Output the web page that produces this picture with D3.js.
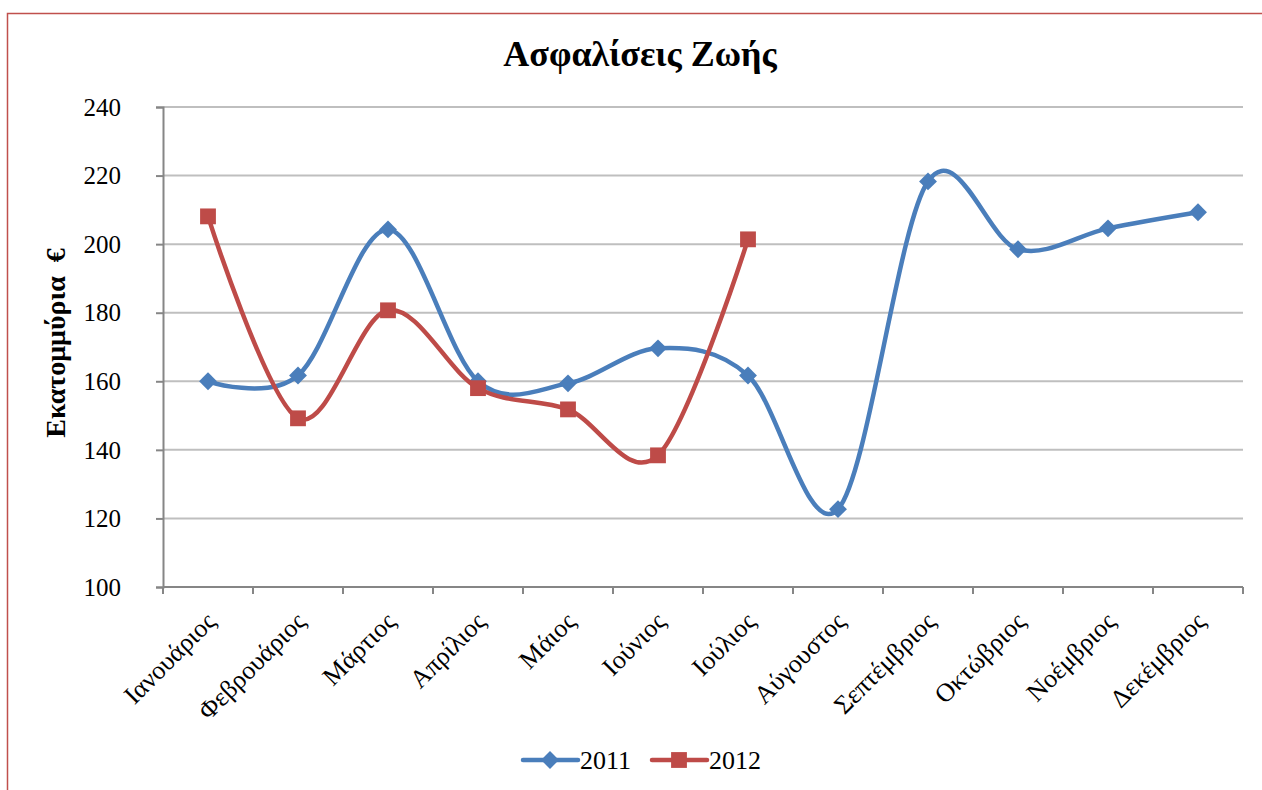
<!DOCTYPE html>
<html>
<head>
<meta charset="utf-8">
<script src="https://cdn.jsdelivr.net/npm/d3@7"></script>
<style>
  body { margin: 0; background: #fff; }
  svg text { font-family: "Liberation Serif", "Times New Roman", serif; fill: #000; }
</style>
</head>
<body>
<div id="chart"></div>
<script>
var months = ["Ιανουάριος", "Φεβρουάριος", "Μάρτιος", "Απρίλιος", "Μάιος", "Ιούνιος",
              "Ιούλιος", "Αύγουστος", "Σεπτέμβριος", "Οκτώβριος", "Νοέμβριος", "Δεκέμβριος"];
var values2011 = [160, 161.7, 204.3, 160, 159.4, 169.6, 161.7, 122.7, 218.3, 198.5, 204.6, 209.3];
var values2012 = [208.1, 149.2, 180.7, 158, 151.8, 138.4, 201.4];
var yTicks = [100, 120, 140, 160, 180, 200, 220, 240];

var width = 1262, height = 790;
var margin = {left: 163, right: 19, top: 107, bottom: 203}; // plot 163..1243, 107..587

var svg = d3.select("#chart").append("svg")
    .attr("width", width)
    .attr("height", height);

// chart border (cut off at right and bottom)
svg.append("rect")
    .attr("x", 7.5).attr("y", 13.5)
    .attr("width", 1300).attr("height", 900)
    .attr("fill", "none")
    .attr("stroke", "#c0504d")
    .attr("stroke-width", 1.5);

var x = d3.scaleBand()
    .domain(months)
    .range([margin.left, width - margin.right]);

var y = d3.scaleLinear()
    .domain([100, 240])
    .range([height - margin.bottom, margin.top]);

// gridlines
svg.append("g").selectAll("line")
    .data(yTicks.slice(1))
    .enter().append("line")
    .attr("x1", margin.left).attr("x2", width - margin.right)
    .attr("y1", function(d){ return y(d); })
    .attr("y2", function(d){ return y(d); })
    .attr("stroke", "#bfbfbf")
    .attr("stroke-width", 2);

// y axis
var yAxis = svg.append("g")
    .attr("transform", "translate(" + margin.left + ",0)")
    .call(d3.axisLeft(y).tickValues(yTicks).tickSize(7).tickPadding(35));
yAxis.select(".domain").attr("stroke", "#868686").attr("stroke-width", 2);
yAxis.selectAll(".tick line").attr("stroke", "#868686").attr("stroke-width", 2);
yAxis.selectAll("text").style("font-size", "25px").attr("dy", "0.33em");

// x axis with ticks at band boundaries
var xAxisG = svg.append("g")
    .attr("transform", "translate(0," + y(100) + ")");
xAxisG.append("line")
    .attr("x1", margin.left).attr("x2", width - margin.right)
    .attr("stroke", "#868686").attr("stroke-width", 2);
var bounds = months.map(function(m){ return x(m); }).concat([width - margin.right]);
xAxisG.selectAll(".tk")
    .data(bounds)
    .enter().append("line")
    .attr("class", "tk")
    .attr("x1", function(d){ return d; }).attr("x2", function(d){ return d; })
    .attr("y1", 0).attr("y2", 7)
    .attr("stroke", "#868686").attr("stroke-width", 2);
xAxisG.selectAll(".lbl")
    .data(months)
    .enter().append("text")
    .attr("class", "lbl")
    .attr("text-anchor", "end")
    .style("font-size", "26px")
    .attr("transform", function(d){
        var cx = x(d) + x.bandwidth() / 2 + 9;
        return "translate(" + cx + ",36) rotate(-45)";
    })
    .text(function(d){ return d; });

// title
svg.append("text")
    .attr("x", 640).attr("y", 66)
    .attr("text-anchor", "middle")
    .style("font-size", "36px")
    .style("font-weight", "bold")
    .text("Ασφαλίσεις Ζωής");

// y axis title
svg.append("text")
    .attr("transform", "translate(65,343) rotate(-90)")
    .attr("text-anchor", "middle")
    .style("font-size", "28px")
    .style("font-weight", "bold")
    .style("white-space", "pre")
    .text("Εκατομμύρια  €");

var cx = function(d, i){ return x(months[i]) + x.bandwidth() / 2; };
var line = d3.line()
    .x(cx)
    .y(function(d){ return y(d); })
    .curve(d3.curveCardinal.tension(0));

var series = [
    {name: "2011", values: values2011, color: "#4a7ebb", diamond: true},
    {name: "2012", values: values2012, color: "#be4b48", diamond: false}
];

function marker(s){
    return d3.symbol().type(d3.symbolSquare).size(s.diamond ? 160 : 250)();
}
function markerRot(s){ return s.diamond ? " rotate(45)" : ""; }

series.forEach(function(s){
    svg.append("path")
        .datum(s.values)
        .attr("fill", "none")
        .attr("stroke", s.color)
        .attr("stroke-width", 4.5)
        .attr("d", line);
    svg.append("g").selectAll("path")
        .data(s.values)
        .enter().append("path")
        .attr("d", marker(s))
        .attr("transform", function(d, i){ return "translate(" + cx(d, i) + "," + y(d) + ")" + markerRot(s); })
        .attr("fill", s.color);
});

// legend
var legend = svg.append("g");
var legendX = [523, 652];
series.forEach(function(s, i){
    var g = legend.append("g").attr("transform", "translate(" + legendX[i] + ",760)");
    g.append("line")
        .attr("x1", 0).attr("x2", 55)
        .attr("stroke", s.color).attr("stroke-width", 4.5)
        .attr("stroke-linecap", "round");
    g.append("path")
        .attr("d", marker(s))
        .attr("transform", "translate(27,0)" + markerRot(s))
        .attr("fill", s.color);
    g.append("text")
        .attr("x", 57).attr("dy", "0.33em")
        .style("font-size", "26px")
        .text(s.name);
});
</script>
</body>
</html>
